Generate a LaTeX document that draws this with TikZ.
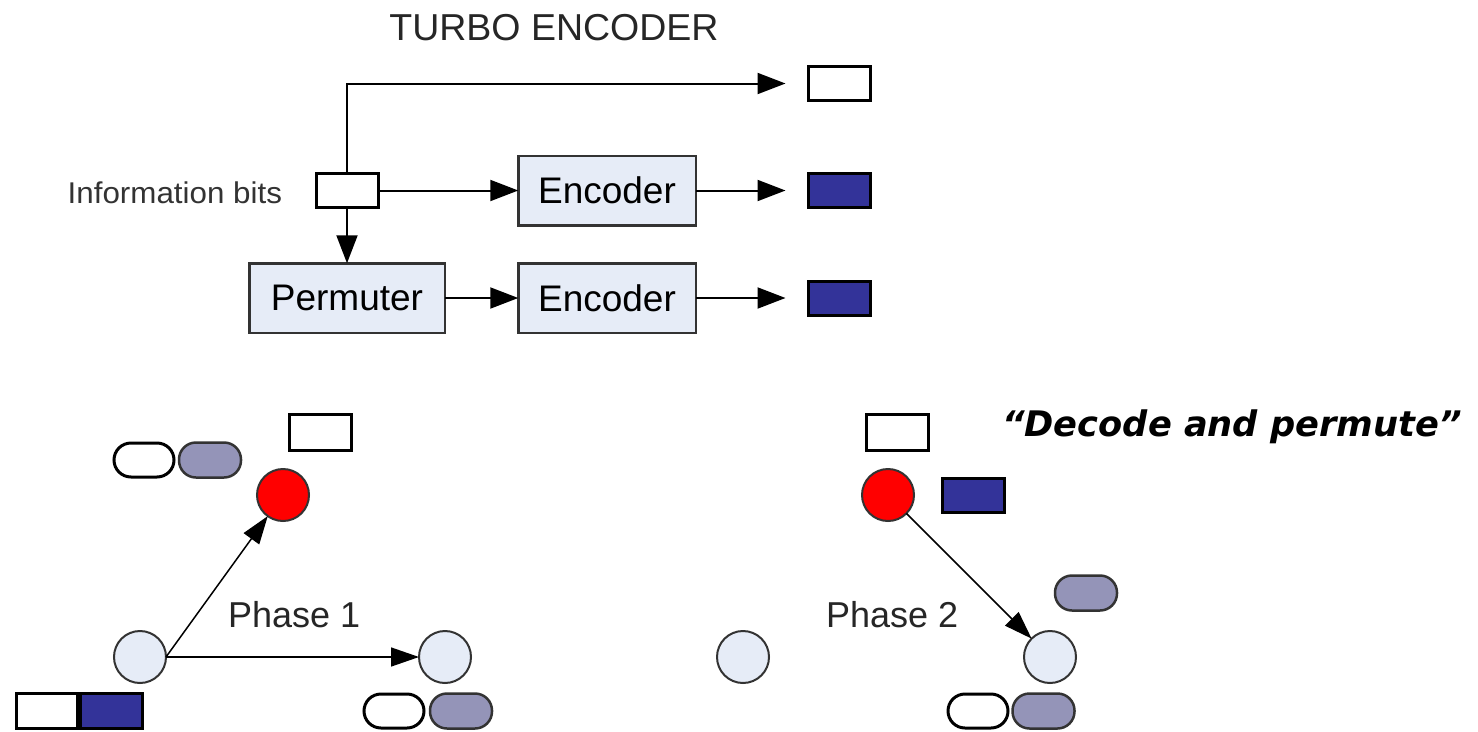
\documentclass[tikz,border=0pt]{standalone}
\usepackage{fontspec}
\setmainfont{Liberation Sans}
\newfontfamily\quotefont{DejaVu Sans}
\usetikzlibrary{arrows.meta}

\definecolor{boxfill}{HTML}{E6ECF7}
\definecolor{darkblue}{HTML}{333399}
\definecolor{pillgrey}{HTML}{9494B8}
\definecolor{edgegrey}{HTML}{333333}

\begin{document}
\begin{tikzpicture}[x=1pt, y=-1pt,
  every node/.style={inner sep=0pt, outer sep=0pt},
  blockbox/.style={draw=edgegrey, line width=2.5pt, fill=boxfill,
    minimum width=177.5pt, minimum height=69.5pt,
    font=\fontsize{37}{40}\selectfont},
  bitbox/.style={draw=black, line width=3pt, fill=white,
    minimum width=62pt, minimum height=34pt},
  paritybox/.style={bitbox, fill=darkblue},
  sysbox/.style={bitbox, minimum height=36pt},
  whitepill/.style={draw=black, line width=3pt, fill=white,
    minimum width=60pt, minimum height=34pt, rounded corners=17pt},
  greypill/.style={draw=edgegrey, line width=2.5pt, fill=pillgrey,
    minimum width=62pt, minimum height=35pt, rounded corners=17pt},
  nodecirc/.style={circle, draw=edgegrey, line width=2pt, fill=boxfill,
    minimum size=52pt},
  relaycirc/.style={nodecirc, fill=red},
  conn/.style={line width=2pt, -{Triangle[length=28pt, width=21pt]}},
  phasearrow/.style={line width=1.5pt, -{Triangle[length=28pt, width=19pt]}},
  lbl/.style={font=\fontsize{36}{40}\selectfont, text=black!85}
]
\useasboundingbox (0,0) rectangle (1478,731);
\fill[white] (0,0) rectangle (1478,731);

% ---------- turbo encoder ----------
\node[anchor=base, font=\fontsize{37.5}{40}\selectfont, text=black!85]
  (title) at (554,40) {TURBO ENCODER};

\node[bitbox] (info) at (347,190.5) {};
\node[anchor=base east, font=\fontsize{30}{34}\selectfont, text=black!80,
  xscale=1.045] (infolbl) at (282,203) {Information bits};

\node[blockbox] (enc1) at (607,190.5) {Encoder};
\node[blockbox, minimum width=195.5pt] (perm) at (347,298) {Permuter};
\node[blockbox] (enc2) at (607,298) {Encoder};

\node[bitbox] (out1) at (839.5,83.5) {};
\node[paritybox] (out2) at (839.5,190.5) {};
\node[paritybox] (out3) at (839.5,298) {};

\draw[conn, shorten >=23pt] (info.north) |- (out1.west);
\draw[conn] (info) -- (enc1);
\draw[conn] (info) -- (perm);
\draw[conn] (perm) -- (enc2);
\draw[conn, shorten >=23pt] (enc1) -- (out2);
\draw[conn, shorten >=23pt] (enc2) -- (out3);

% ---------- phase 1 ----------
\node[nodecirc] (srcA) at (140,657) {};
\node[relaycirc] (relA) at (283,495) {};
\node[nodecirc] (dstA) at (445,657) {};

\node[bitbox, minimum width=61pt, minimum height=35pt] (barW) at (47,711) {};
\node[paritybox, minimum width=62pt, minimum height=35pt] (barB) at (111.5,711) {};

\node[sysbox] (relbitA) at (320.5,432.5) {};
\node[whitepill] (pillAw) at (144,460) {};
\node[greypill] (pillAg) at (210,460) {};
\node[whitepill] (pillBw) at (394,711) {};
\node[greypill] (pillBg) at (461,711) {};

\node[lbl, anchor=base west] (ph1) at (228,627) {Phase 1};

\draw[phasearrow] (srcA.east) -- (relA);
\draw[phasearrow] (srcA.east) -- (dstA.west);

% ---------- phase 2 ----------
\node[nodecirc] (srcB) at (743,657) {};
\node[relaycirc] (relB) at (888,495) {};
\node[nodecirc] (dstB) at (1050,657) {};

\node[sysbox] (relbitB) at (897.5,432.5) {};
\node[paritybox] (relparB) at (973.5,495.5) {};
\node[greypill] (pillCg) at (1086,593) {};
\node[whitepill] (pillDw) at (978,711) {};
\node[greypill] (pillDg) at (1043.5,711) {};

\node[lbl, anchor=base west] (ph2) at (826,627) {Phase 2};

\draw[phasearrow] (relB) -- (dstB);

\node[anchor=base west, font=\quotefont\bfseries\itshape\fontsize{35.2}{40}\selectfont]
  (motto) at (1002,436) {“Decode and permute”};
\end{tikzpicture}
\end{document}
